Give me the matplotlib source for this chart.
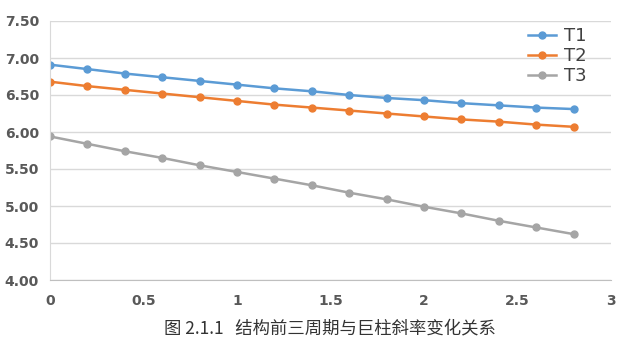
import matplotlib
matplotlib.use('Agg')
import matplotlib.pyplot as plt
import numpy as np

x = [0, 0.2, 0.4, 0.6, 0.8, 1.0, 1.2, 1.4, 1.6, 1.8, 2.0, 2.2, 2.4, 2.6, 2.8]
t1 = [6.91, 6.85, 6.79, 6.74, 6.69, 6.64, 6.59, 6.55, 6.50, 6.46, 6.43, 6.39, 6.36, 6.33, 6.31]
t2 = [6.68, 6.62, 6.57, 6.52, 6.47, 6.42, 6.37, 6.33, 6.29, 6.25, 6.21, 6.17, 6.14, 6.10, 6.07]
t3 = [5.94, 5.84, 5.74, 5.65, 5.55, 5.46, 5.37, 5.28, 5.18, 5.09, 4.99, 4.90, 4.80, 4.71, 4.62]
names = ['T1', 'T2', 'T3']
colors = ['#5B9BD5', '#ED7D31', '#A5A5A5']
caption = '图 2.1.1   结构前三周期与巨柱斜率变化关系'

fig = plt.figure(figsize=(6.21, 3.43), dpi=100)
ax = fig.add_axes([50 / 621, 1 - 280 / 343, 561 / 621, 259 / 343])

for y, name, c in zip([t1, t2, t3], names, colors):
    ax.plot(x, y, color=c, lw=1.8, marker='o', ms=5, label=name)

ax.set_xlim(0, 3)
ax.set_ylim(4, 7.5)
ax.set_yticks(np.arange(4, 7.51, 0.5))
ax.set_yticklabels([f'{v:.2f}' for v in np.arange(4, 7.51, 0.5)])
ax.set_xticks([0, 0.5, 1, 1.5, 2, 2.5, 3])
ax.set_xticklabels(['0', '0.5', '1', '1.5', '2', '2.5', '3'])
ax.grid(axis='y', color='#D9D9D9', lw=1)
ax.set_axisbelow(True)
for s in ['top', 'right']:
    ax.spines[s].set_visible(False)
ax.spines['left'].set_color('#D9D9D9')
ax.spines['bottom'].set_color('#BFBFBF')
ax.tick_params(length=0, labelsize=10, colors='#595959')
ax.tick_params(axis='x', pad=10)
ax.tick_params(axis='y', pad=8)
for lbl in ax.get_xticklabels() + ax.get_yticklabels():
    lbl.set_fontweight('bold')

leg = ax.legend(loc='upper right', bbox_to_anchor=(0.985, 1.04), frameon=False,
                fontsize=13, handlelength=1.6, labelspacing=0.12, handletextpad=0.4)
for t in leg.get_texts():
    t.set_color('#404040')

fig.text(330 / 621, 1 - 328 / 343, caption, ha='center', va='center', fontsize=12.5,
         family=['Noto Sans CJK SC', 'DejaVu Sans'], color='#333333')

fig.savefig('out.png', dpi=100)
